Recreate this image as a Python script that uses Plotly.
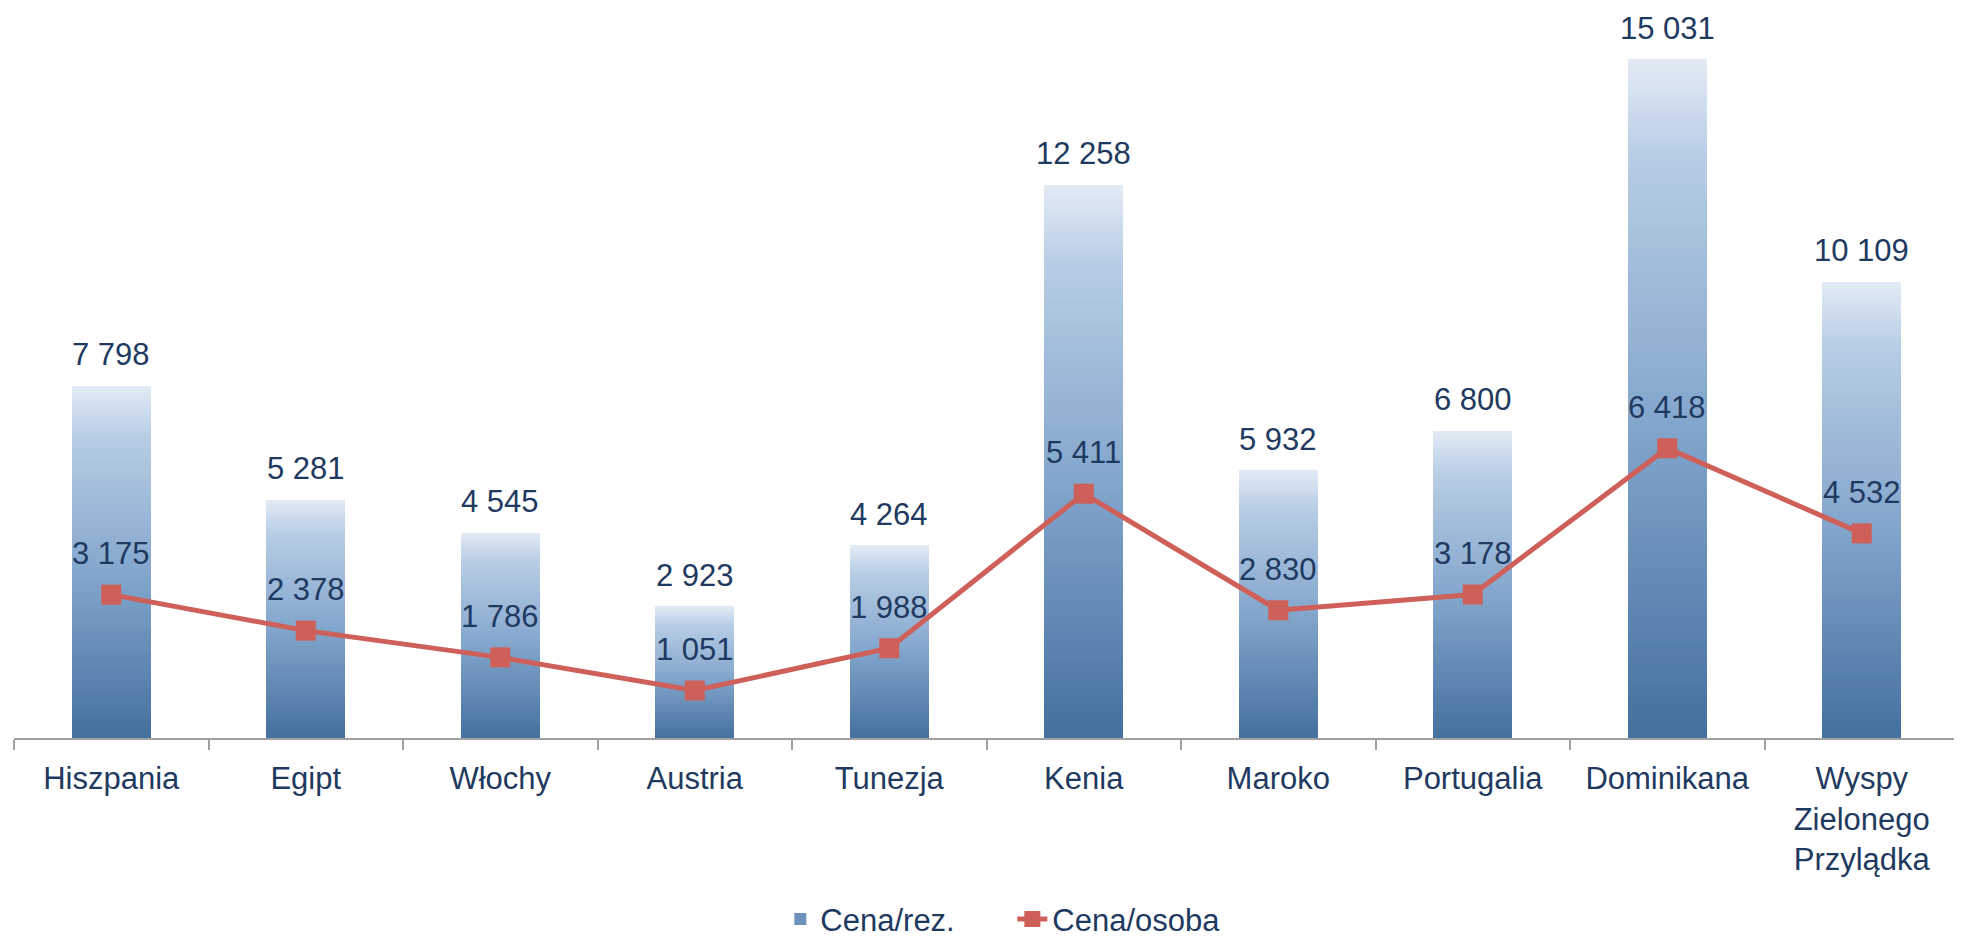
import plotly.graph_objects as go

categories = ["Hiszpania", "Egipt", "Włochy", "Austria", "Tunezja", "Kenia",
              "Maroko", "Portugalia", "Dominikana", "Wyspy<br>Zielonego<br>Przylądka"]
cena_rez = [7798, 5281, 4545, 2923, 4264, 12258, 5932, 6800, 15031, 10109]
cena_osoba = [3175, 2378, 1786, 1051, 1988, 5411, 2830, 3178, 6418, 4532]

FONT = "Liberation Sans, Arial, sans-serif"
TXT = "#1F3A60"
LINE = "#CF5F59"

# gradient stops (bottom -> top)
stops = [(0.0, (0x44, 0x70, 0x9F)), (0.5, (0x88, 0xAA, 0xCF)),
         (0.85, (0xB6, 0xCC, 0xE4)), (1.0, (0xE2, 0xEB, 0xF5))]


def grad(t):
    for (t0, c0), (t1, c1) in zip(stops[:-1], stops[1:]):
        if t <= t1:
            f = (t - t0) / (t1 - t0)
            return "rgb(%d,%d,%d)" % tuple(round(a + (b - a) * f) for a, b in zip(c0, c1))
    return "rgb(%d,%d,%d)" % stops[-1][1]


def fmt(v):
    return f"{v:,}".replace(",", " ")


N = 100
fig = go.Figure()
for i in range(N):
    col = grad((i + 0.5) / N)
    fig.add_trace(go.Bar(
        x=categories, y=[v / N for v in cena_rez],
        marker=dict(color=col, line=dict(width=0)),
        name="Cena/rez.", showlegend=(i == 30), legendgroup="rez",
        hoverinfo="skip"))

fig.add_trace(go.Scatter(
    x=categories, y=cena_osoba, mode="lines+markers", name="Cena/osoba",
    line=dict(color=LINE, width=5),
    marker=dict(symbol="square", size=20, color=LINE),
    hoverinfo="skip"))

annotations = []
for c, v in zip(categories, cena_rez):
    annotations.append(dict(x=c, y=v, text=fmt(v), showarrow=False, yanchor="middle",
                            yshift=31, font=dict(family=FONT, size=31, color=TXT)))
for c, v in zip(categories, cena_osoba):
    annotations.append(dict(x=c, y=v, text=fmt(v), showarrow=False, yanchor="middle",
                            yshift=41, font=dict(family=FONT, size=31, color=TXT)))

fig.update_layout(
    width=1954, height=930,
    margin=dict(l=6, r=3, t=2, b=200, autoexpand=False),
    paper_bgcolor="white", plot_bgcolor="white",
    barmode="stack", bargap=0.594,
    font=dict(family=FONT, size=31, color=TXT),
    annotations=annotations,
    legend=dict(orientation="h", x=0.394, xanchor="left", y=-0.249, yanchor="middle",
                font=dict(family=FONT, size=31, color=TXT), traceorder="normal",
                itemwidth=30, entrywidth=187, entrywidthmode="pixels"),
    xaxis=dict(showline=True, linecolor="#A0A0A0", linewidth=2, ticks="outside",
               tickson="boundaries", ticklen=10, tickwidth=2, tickcolor="#A0A0A0",
               showgrid=False, automargin=False, ticklabelstandoff=12,
               range=[-0.5, 9.5],
               tickfont=dict(family=FONT, size=31, color=TXT)),
    yaxis=dict(range=[0, 16124], visible=False, showgrid=False, fixedrange=True,
               automargin=False),
)

fig.write_html("out.html")
